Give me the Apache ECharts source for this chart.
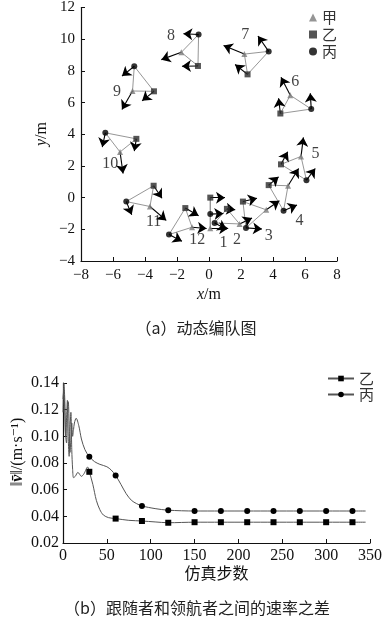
<!DOCTYPE html>
<html>
<head>
<meta charset="utf-8">
<script src="https://cdn.jsdelivr.net/npm/echarts@6/dist/echarts.min.js"></script>
<style>
  html, body { margin: 0; padding: 0; background: #fff; }
  #main { width: 389px; height: 623px; }
</style>
</head>
<body>
<div id="main"></div>
<script>
// (a) 动态编队图 —— 12 个时刻的三机位置 [x, y]，单位 m
const stepNames = ['1', '2', '3', '4', '5', '6', '7', '8', '9', '10', '11', '12']
const jia = [[0.08, -1.93], [1.91, -1.66], [3.58, -0.77], [4.94, 0.75], [5.75, 2.6], [5.08, 6.46],
  [2.21, 9.06], [-1.73, 9.17], [-4.78, 6.73], [-5.56, 2.88], [-3.69, -0.56], [-1.06, -1.87]]
const yi = [[0.08, 0.0], [1.12, -0.71], [2.12, -0.25], [3.73, 0.79], [4.5, 2.1], [4.46, 5.31],
  [2.41, 7.78], [-0.69, 8.31], [-3.44, 6.71], [-4.54, 3.71], [-3.46, 0.75], [-1.48, -0.66]]
const bing = [[0.08, -1.04], [0.35, -1.6], [2.31, -1.91], [4.66, -0.83], [6.09, 1.1], [6.39, 5.59],
  [3.73, 9.23], [-0.65, 10.3], [-4.67, 8.29], [-6.48, 4.09], [-5.17, -0.25], [-2.5, -2.33]]
// 速度方向箭头的终点
const jiaTip = [[1.2, -1.93], [2.69, -1.29], [4.4, -0.2], [5.6, 1.84], [5.9, 3.8], [4.5, 7.6],
  [0.91, 9.6], [-2.98, 8.71], [-5.44, 5.56], [-5.37, 1.52], [-2.67, -1.44], [-0.15, -1.95]]
const yiTip = [[1.0, 0.0], [1.64, -0.77], [3.0, -0.04], [4.35, 1.31], [4.92, 2.9], [4.35, 6.27],
  [1.63, 8.4], [-1.69, 8.29], [-4.18, 6.11], [-4.67, 2.94], [-2.94, -0.04], [-0.65, -1.14]]
const bingTip = [[0.9, -1.0], [1.1, -2.0], [3.31, -1.98], [5.5, -0.46], [6.64, 1.84], [6.33, 6.59],
  [3.06, 10.2], [-1.6, 10.34], [-5.44, 7.67], [-6.67, 3.19], [-4.83, -1.08], [-1.69, -2.75]]
// 时刻编号的位置
const labelPos = [[0.9, -2.85], [1.75, -2.64], [3.73, -2.44], [5.66, -1.46], [6.66, 2.78], [5.39, 7.29],
  [2.27, 10.27], [-2.37, 10.19], [-5.75, 6.69], [-6.17, 2.11], [-3.46, -1.5], [-0.73, -2.64]]

// (b) 跟随者和领航者之间的速率之差
const yiSteps = [0, 1, 2, 3, 4, 5, 6, 7, 8, 9, 10, 11, 12, 14, 17, 21, 24, 28, 30, 34, 38, 42, 46, 52, 60,
  75, 90, 105, 120, 150, 180, 210, 240, 270, 300, 330, 345]
const yiSpeed = [0.118, 0.140, 0.128, 0.100, 0.112, 0.127, 0.098, 0.085, 0.105, 0.118, 0.090, 0.075, 0.069,
  0.070, 0.073, 0.070, 0.072, 0.077, 0.0734, 0.064, 0.052, 0.045, 0.041, 0.039, 0.0383,
  0.037, 0.0365, 0.0358, 0.0352, 0.0356, 0.0356, 0.0356, 0.0356, 0.0356, 0.0356, 0.0356, 0.0356]
const bingSteps = [0, 1, 2, 3, 4, 5, 6, 7, 8, 9, 10, 11, 12, 13, 15, 18, 21, 25, 30, 36, 42, 50, 55, 60,
  66, 72, 78, 84, 90, 105, 120, 150, 180, 210, 240, 270, 300, 330, 345]
const bingSpeed = [0.128, 0.135, 0.120, 0.100, 0.095, 0.118, 0.126, 0.110, 0.088, 0.098, 0.110, 0.100, 0.105,
  0.110, 0.1136, 0.108, 0.098, 0.090, 0.0847, 0.081, 0.079, 0.0772, 0.0747, 0.0707,
  0.064, 0.057, 0.052, 0.0495, 0.0478, 0.0458, 0.0446, 0.044, 0.044, 0.044, 0.044, 0.044, 0.044, 0.044, 0.044]
const markerSteps = [30, 60, 90, 120, 150, 180, 210, 240, 270, 300, 330]

const serif = '"Liberation Serif", "DejaVu Serif", serif'
const cjk = '"Noto Sans CJK SC", sans-serif'
const minus = v => String(v).replace('-', '−')

const edges = stepNames.map((n, i) => ({ coords: [jia[i], yi[i], bing[i], jia[i]] }))
const arrows = []
stepNames.forEach((n, i) => {
  arrows.push({ coords: [jia[i], jiaTip[i]] })
  arrows.push({ coords: [yi[i], yiTip[i]] })
  arrows.push({ coords: [bing[i], bingTip[i]] })
})

const lineData = (steps, vals, sym) => steps.map((s, i) => ({
  value: [s, vals[i]],
  symbol: markerSteps.includes(s) ? sym : 'none'
}))

const axisCommon = {
  axisLine: { show: true, onZero: false, lineStyle: { color: '#111', width: 1.2 } },
  axisTick: { show: true, inside: true, length: 4, lineStyle: { color: '#111' } },
  splitLine: { show: false }
}

const option = {
  animation: false,
  backgroundColor: '#fff',
  grid: [
    { left: 81, top: 6, width: 256, height: 255 },
    { left: 63, top: 383, width: 307, height: 160 }
  ],
  legend: [
    {
      data: ['甲', '乙', '丙'],
      orient: 'vertical', left: 304, top: 5, itemGap: 2,
      itemWidth: 8, itemHeight: 8,
      textStyle: { fontFamily: cjk, fontSize: 15, color: '#333' }
    },
    {
      data: ['乙 ', '丙 '],
      orient: 'vertical', left: 322, top: 366, itemGap: 1,
      itemWidth: 26, itemHeight: 7,
      textStyle: { fontFamily: cjk, fontSize: 15, color: '#333' }
    }
  ],
  xAxis: [
    Object.assign({
      gridIndex: 0, type: 'value', min: -8, max: 8, interval: 2,
      name: '{i|x}/m', nameLocation: 'middle', nameGap: 26,
      nameTextStyle: { fontFamily: serif, fontSize: 16, color: '#111',
        rich: { i: { fontFamily: serif, fontSize: 16, fontStyle: 'italic', color: '#111' } } },
      axisLabel: { fontFamily: serif, fontSize: 15, color: '#111', margin: 7, formatter: minus }
    }, axisCommon),
    Object.assign({
      gridIndex: 1, type: 'value', min: 0, max: 350, interval: 50,
      name: '仿真步数', nameLocation: 'middle', nameGap: 22,
      nameTextStyle: { fontFamily: cjk, fontSize: 16, color: '#111' },
      axisLabel: { fontFamily: serif, fontSize: 16, color: '#111', margin: 5 }
    }, axisCommon)
  ],
  yAxis: [
    Object.assign({
      gridIndex: 0, type: 'value', min: -4, max: 12, interval: 2,
      axisLabel: { fontFamily: serif, fontSize: 15, color: '#111', margin: 6, formatter: minus }
    }, axisCommon),
    Object.assign({
      gridIndex: 1, type: 'value', min: 0.02, max: 0.14, interval: 0.02,
      axisLabel: { fontFamily: serif, fontSize: 16, color: '#111', margin: 4,
        formatter: v => v.toFixed(2) }
    }, axisCommon)
  ],
  series: [
    {
      name: 'edges', type: 'lines', coordinateSystem: 'cartesian2d', polyline: true,
      xAxisIndex: 0, yAxisIndex: 0, silent: true,
      lineStyle: { color: '#8a8a8a', width: 0.9, opacity: 1 },
      data: edges
    },
    {
      name: 'arrows', type: 'lines', coordinateSystem: 'cartesian2d',
      xAxisIndex: 0, yAxisIndex: 0, silent: true,
      symbol: ['none', 'arrow'], symbolSize: [0, 9],
      lineStyle: { color: '#000', width: 1.1, opacity: 1 },
      data: arrows
    },
    {
      name: '甲', type: 'scatter', xAxisIndex: 0, yAxisIndex: 0,
      symbol: 'triangle', symbolSize: 6, itemStyle: { color: '#7a7a7a' }, z: 4,
      data: jia
    },
    {
      name: '乙', type: 'scatter', xAxisIndex: 0, yAxisIndex: 0,
      symbol: 'rect', symbolSize: 6, itemStyle: { color: '#2a2a2a' }, z: 4,
      data: yi
    },
    {
      name: '丙', type: 'scatter', xAxisIndex: 0, yAxisIndex: 0,
      symbol: 'circle', symbolSize: 6, itemStyle: { color: '#000' }, z: 4,
      data: bing
    },
    {
      name: 'steps', type: 'scatter', xAxisIndex: 0, yAxisIndex: 0, silent: true,
      symbolSize: 1, itemStyle: { color: 'rgba(0,0,0,0)' },
      label: { show: true, position: 'inside', formatter: p => stepNames[p.dataIndex],
        fontFamily: serif, fontSize: 16, color: '#111' },
      data: labelPos
    },
    {
      name: '乙 ', type: 'line', xAxisIndex: 1, yAxisIndex: 1,
      smooth: 0.3, symbol: 'rect', symbolSize: 6, showAllSymbol: true,
      itemStyle: { color: '#000' }, lineStyle: { color: '#555', width: 1 },
      data: lineData(yiSteps, yiSpeed, 'rect')
    },
    {
      name: '丙 ', type: 'line', xAxisIndex: 1, yAxisIndex: 1,
      smooth: 0.3, symbol: 'circle', symbolSize: 6, showAllSymbol: true,
      itemStyle: { color: '#000' }, lineStyle: { color: '#555', width: 1 },
      data: lineData(bingSteps, bingSpeed, 'circle')
    }
  ],
  graphic: [
    {
      type: 'text', x: 42, y: 134, rotation: Math.PI / 2,
      style: { text: '{i|y}/m', align: 'center', verticalAlign: 'middle',
        font: '16px ' + serif, fill: '#111',
        rich: { i: { fontFamily: serif, fontSize: 16, fontStyle: 'italic', fill: '#111' } } }
    },
    {
      type: 'text', x: 196, y: 328,
      style: { text: '（a）动态编队图', align: 'center', verticalAlign: 'middle',
        font: '16px ' + cjk, fill: '#222' }
    },
    {
      type: 'text', x: 18, y: 452, rotation: Math.PI / 2,
      style: { text: '{b|‖}{v|v\u0304}{b|‖}{n|/(m·s⁻¹)}', align: 'center', verticalAlign: 'middle',
        font: '16px ' + serif, fill: '#111',
        rich: {
          b: { fontFamily: serif, fontSize: 16, fill: '#111' },
          v: { fontFamily: serif, fontSize: 16, fontStyle: 'italic', fontWeight: 'bold', fill: '#111' },
          n: { fontFamily: serif, fontSize: 16, fill: '#111' }
        } }
    },
    {
      type: 'text', x: 197, y: 608,
      style: { text: '（b）跟随者和领航者之间的速率之差', align: 'center', verticalAlign: 'middle',
        font: '16px ' + cjk, fill: '#222' }
    }
  ]
}

const myChart = echarts.init(document.getElementById('main'), null, { renderer: 'canvas' })
myChart.setOption(option)
window.onresize = function () {
  myChart.resize()
}
</script>
</body>
</html>
